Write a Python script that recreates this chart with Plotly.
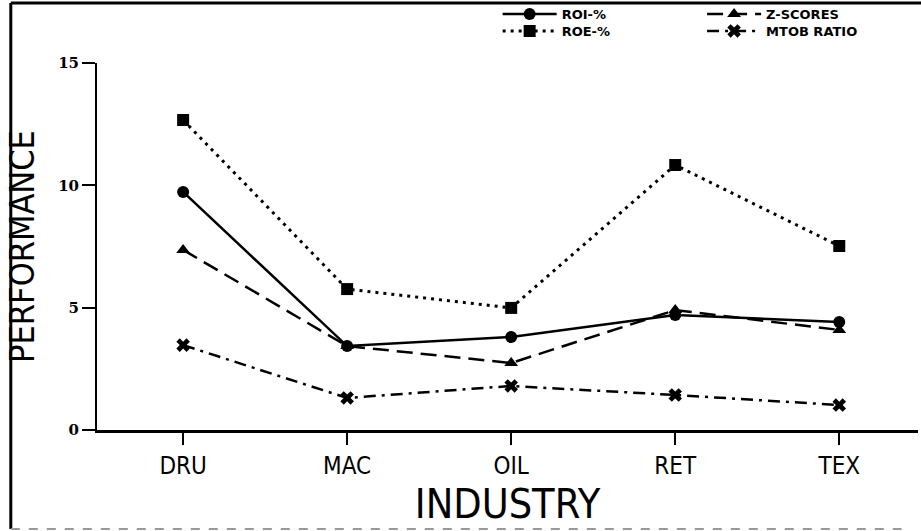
import plotly.graph_objects as go

industries = ["DRU", "MAC", "OIL", "RET", "TEX"]
roi = [9.73, 3.43, 3.80, 4.70, 4.41]
roe = [12.67, 5.76, 4.99, 10.83, 7.52]
zscores = [7.36, 3.43, 2.74, 4.90, 4.09]
mtob = [3.47, 1.31, 1.80, 1.43, 1.02]
y_ticks = [0, 5, 10, 15]

series = [
    ("ROI-%", roi, "solid", "circle", 2.5, "legend"),
    ("ROE-%", roe, "3px,5px", "square", 3, "legend3"),
    ("Z-SCORES", zscores, "16px,8px", "triangle-up", 2.5, "legend2"),
    ("MTOB RATIO", mtob, "12px,6px,3px,6px", "x", 2.5, "legend4"),
]

fig = go.Figure()
for name, vals, dash, sym, w, leg in series:
    fig.add_trace(go.Scatter(
        x=list(range(len(industries))), y=vals, name=name,
        mode="lines+markers", legend=leg,
        line=dict(color="black", width=w, dash=dash),
        marker=dict(symbol=sym, size=12, color="black"),
    ))

label_font = "DejaVu Sans Condensed, Liberation Sans Narrow, DejaVu Sans Mono, monospace"
legend_common = dict(
    orientation="v", xref="paper", yref="paper", xanchor="left",
    yanchor="top", itemwidth=54,
    font=dict(family="DejaVu Sans", size=13, color="black", weight="bold"),
    bgcolor="rgba(0,0,0,0)", borderwidth=0, traceorder="normal",
)

fig.update_layout(
    width=921, height=531,
    margin=dict(l=97, r=3, t=63, b=101, autoexpand=False),
    paper_bgcolor="white", plot_bgcolor="white",
    showlegend=True,
    legend=dict(x=0.488, y=1.1744, **legend_common),
    legend2=dict(x=0.737, y=1.1744, **legend_common),
    legend3=dict(x=0.488, y=1.1281, **legend_common),
    legend4=dict(x=0.737, y=1.1281, **legend_common),
    xaxis=dict(
        range=[-0.525, 4.48], tickmode="array", automargin=False,
        tickvals=list(range(len(industries))), ticktext=industries,
        showline=True, linecolor="black", linewidth=3,
        ticks="outside", ticklen=12, tickwidth=2, tickcolor="black",
        showgrid=False, zeroline=False,
        tickfont=dict(family=label_font, size=24, color="black"),
        title=dict(text="INDUSTRY", standoff=8,
                   font=dict(family=label_font, size=41, color="black")),
    ),
    yaxis=dict(
        range=[0, 15], tickmode="array", tickvals=y_ticks, automargin=False,
        showline=True, linecolor="black", linewidth=2,
        ticks="outside", ticklen=13, tickwidth=2, tickcolor="black",
        showgrid=False, zeroline=False,
        tickfont=dict(family="DejaVu Serif", size=15, color="black", weight="bold"),
        title=dict(text="PERFORMANCE", standoff=13,
                   font=dict(family=label_font, size=34, color="black")),
    ),
    xaxis2=dict(
        overlaying="x", anchor="y", range=[-0.525, 4.48], tickmode="array",
        tickvals=list(range(len(industries))), showticklabels=False,
        ticks="inside", ticklen=12, tickwidth=2, tickcolor="black",
        showgrid=False, zeroline=False, showline=False,
    ),
    yaxis2=dict(
        overlaying="y", anchor="x", range=[0, 15], tickmode="array",
        tickvals=y_ticks, showticklabels=False,
        ticks="inside", ticklen=13, tickwidth=2, tickcolor="black",
        showgrid=False, zeroline=False, showline=False,
    ),
    shapes=[
        dict(type="line", xref="paper", yref="paper", x0=-0.105, x1=1.004,
             y0=1.1635, y1=1.1635, line=dict(color="black", width=3)),
        dict(type="line", xref="paper", yref="paper", x0=-0.105, x1=-0.105,
             y0=1.1635, y1=-0.27, line=dict(color="black", width=3)),
        dict(type="line", xref="paper", yref="paper", x0=-0.105, x1=0.98,
             y0=-0.27, y1=-0.27, line=dict(color="#999", width=2, dash="dash")),
    ],
)

fig.write_html("out.html", config={"displayModeBar": False},
               post_script="document.body.style.margin='0px';")
